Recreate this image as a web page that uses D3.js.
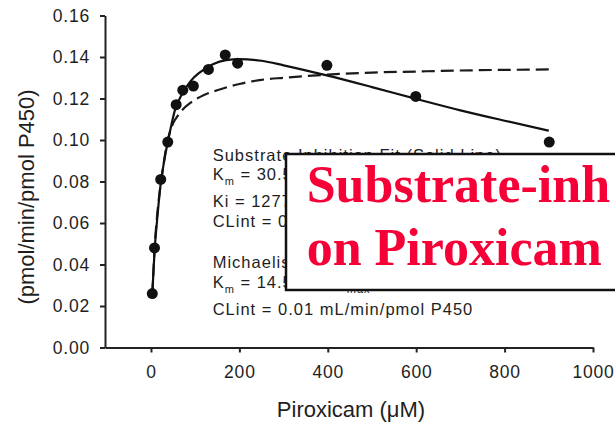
<!DOCTYPE html>
<html>
<head>
<meta charset="utf-8">
<script src="https://cdn.jsdelivr.net/npm/d3@7"></script>
<style>
  body { margin: 0; background: #fff; }
  text { font-family: "Liberation Sans", Arial, sans-serif; fill: #1e1e1e; }
</style>
</head>
<body>
<div id="chart"></div>
<script>
// observed velocities
const conc = [3, 8, 22, 38, 57, 72, 96, 130, 168, 196, 398, 599, 901];
const rate = [0.026, 0.048, 0.081, 0.099, 0.117, 0.124, 0.126, 0.134, 0.141, 0.137, 0.136, 0.121, 0.099];

// substrate inhibition fit (solid line)
const siX = [3, 8, 15, 22, 30, 40, 55, 70, 90, 110, 140, 170, 200, 250, 300, 400, 500, 600, 700, 800, 900];
const siY = [0.026, 0.046, 0.064, 0.079, 0.090, 0.101, 0.115, 0.122, 0.1285, 0.1325, 0.1365, 0.1385, 0.139, 0.1382, 0.136, 0.131, 0.1255, 0.1198, 0.1143, 0.1093, 0.1045];

// michaelis-menten fit (dashed line)
const mmX = [3, 8, 15, 25, 35, 50, 60, 70, 90, 120, 150, 200, 250, 300, 400, 500, 600, 700, 800, 900];
const mmY = [0.025, 0.047, 0.066, 0.083, 0.097, 0.108, 0.1115, 0.1143, 0.118, 0.1217, 0.124, 0.127, 0.129, 0.130, 0.1315, 0.1325, 0.133, 0.1335, 0.1338, 0.134];

const xTicks = [0, 200, 400, 600, 800, 1000];
const yTicks = [0, 0.02, 0.04, 0.06, 0.08, 0.10, 0.12, 0.14, 0.16];

const legendLines = [
  ["Substrate Inhibition Fit (Solid Line)"],
  ["K", "m", " = 30.5 \u03bcM, V", "max", " = 0.18 pmol/min/pmol P450"],
  ["Ki = 1277 \u03bcM"],
  ["CLint = 0.006 mL/min/pmol P450"],
  ["Michaelis-Menten Fit (Dashed Line)"],
  ["K", "m", " = 14.5 \u03bcM, V", "max", " = 0.14 pmol/min/pmol P450"],
  ["CLint = 0.01 mL/min/pmol P450"]
];
const legendGap = [0, 19.5, 26.5, 20, 41.5, 20, 27];

const W = 615, H = 423;
const svg = d3.select('#chart').append('svg')
  .attr('width', W).attr('height', H);

const x = d3.scaleLinear().domain([-104, 1000]).range([105, 593]);
const y = d3.scaleLinear().domain([0, 0.16]).range([347.5, 15.5]);

// axes
const xAxis = svg.append('g')
  .attr('transform', `translate(0,${y(0)})`)
  .call(d3.axisBottom(x).tickValues(xTicks).tickFormat(d3.format('d'))
    .tickSize(5).tickSizeOuter(0).tickPadding(13));
const yAxis = svg.append('g')
  .attr('transform', `translate(${x(-104)},0)`)
  .call(d3.axisLeft(y).tickValues(yTicks).tickFormat(d3.format('.2f'))
    .tickSize(5).tickSizeOuter(0).tickPadding(10));

[xAxis, yAxis].forEach(a => {
  a.select('.domain').attr('stroke', '#222').attr('stroke-width', 2);
  a.selectAll('.tick line').attr('stroke', '#222').attr('stroke-width', 2);
  a.selectAll('.tick text')
    .style('font-family', '"Liberation Sans", Arial, sans-serif')
    .style('font-size', '17.5px')
    .style('letter-spacing', '0.8px')
    .attr('fill', '#1e1e1e');
});

// axis titles
svg.append('text')
  .attr('x', 351).attr('y', 416.5)
  .attr('text-anchor', 'middle')
  .style('font-size', '22px')
  .text('Piroxicam (\u03bcM)');

svg.append('text')
  .attr('transform', 'translate(34,197) rotate(-90)')
  .attr('text-anchor', 'middle')
  .style('font-size', '22px')
  .text('(pmol/min/pmol P450)');

// fitted curves
const line = d3.line()
  .x(d => x(d[0]))
  .y(d => y(d[1]))
  .curve(d3.curveMonotoneX);

svg.append('path')
  .datum(mmX.map((v, i) => [v, mmY[i]]))
  .attr('d', line)
  .attr('fill', 'none')
  .attr('stroke', '#1a1a1a')
  .attr('stroke-width', 2.2)
  .attr('stroke-dasharray', '13,6');

svg.append('path')
  .datum(siX.map((v, i) => [v, siY[i]]))
  .attr('d', line)
  .attr('fill', 'none')
  .attr('stroke', '#111')
  .attr('stroke-width', 2.2);

// data points
svg.selectAll('circle.pt')
  .data(conc.map((v, i) => [v, rate[i]]))
  .enter().append('circle')
  .attr('class', 'pt')
  .attr('cx', d => x(d[0]))
  .attr('cy', d => y(d[1]))
  .attr('r', 5.5)
  .attr('fill', '#111');

// fit parameters text
let ly = 160.5;
legendLines.forEach((parts, i) => {
  ly += legendGap[i];
  const t = svg.append('text')
    .attr('x', 212.7).attr('y', ly)
    .style('font-size', '16.5px')
    .style('letter-spacing', '1px');
  parts.forEach((p, j) => {
    const sub = parts.length > 1 && j % 2 === 1;
    t.append('tspan')
      .attr('baseline-shift', sub ? '-5' : null)
      .style('font-size', sub ? '11px' : null)
      .text(p);
  });
});

// overlay banner
svg.append('rect')
  .attr('x', 286).attr('y', 154)
  .attr('width', 360).attr('height', 136)
  .attr('fill', '#fff')
  .attr('stroke', '#111')
  .attr('stroke-width', 2.5);

['Substrate-inh', 'on Piroxicam'].forEach((s, i) => {
  svg.append('text')
    .attr('x', 306.7).attr('y', i ? 265 : 201.7)
    .style('font-family', '"Liberation Serif", "Times New Roman", serif')
    .style('font-weight', 'bold')
    .style('font-size', '52px')
    .style('fill', '#f50037')
    .text(s);
});
</script>
</body>
</html>
